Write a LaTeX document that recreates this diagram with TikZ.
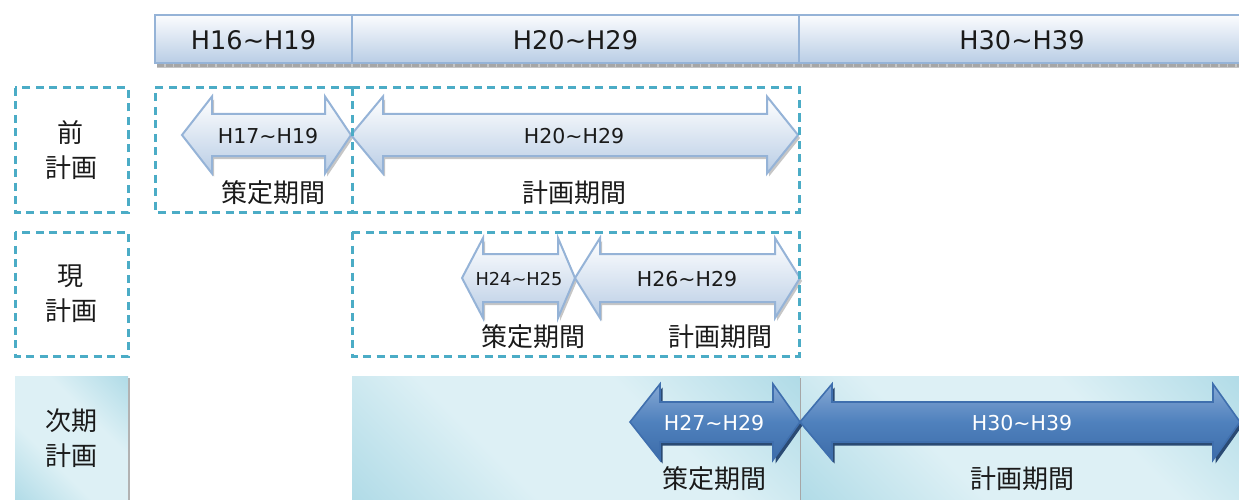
\documentclass[tikz,border=0pt]{standalone}
\usepackage{fontspec}
\setmainfont{DejaVu Sans}
\newfontfamily\jp{Noto Sans CJK JP}
\definecolor{hdrtop}{HTML}{FBFCFE}
\definecolor{hdrbot}{HTML}{B9CDE5}
\definecolor{hdrline}{HTML}{95B3D7}
\definecolor{dashc}{HTML}{4BACC6}
\definecolor{tealL}{HTML}{DDF0F5}
\definecolor{tealD}{HTML}{94CEDE}
\definecolor{darkA}{HTML}{4F81BD}
\definecolor{darkT}{HTML}{86A8D4}
\definecolor{darkE}{HTML}{3D6CA9}
\definecolor{darkL}{HTML}{3F6FAE}
\definecolor{darkS}{HTML}{2A4A73}
\definecolor{txt}{HTML}{1A1A1A}
\pgfdeclarehorizontalshading{tealdiag}{100bp}{color(0bp)=(tealD); color(38bp)=(tealL); color(62bp)=(tealL); color(100bp)=(tealD)}
\newcommand\dblarr[8]{%
  \path[#1] (#2,#6) -- (#3,#6-#7) -- (#3,#6-#8) -- (#4,#6-#8) -- (#4,#6-#7) -- (#5,#6)
    -- (#4,#6+#7) -- (#4,#6+#8) -- (#3,#6+#8) -- (#3,#6+#7) -- cycle;}
\tikzset{
  hdr/.style={top color=hdrtop, bottom color=hdrbot, draw=hdrline, line width=2pt},
  hdrtxt/.style={text=txt, font=\fontsize{25.6}{30}\selectfont, inner sep=0pt},
  dbox/.style={draw=dashc, line width=3pt, dash pattern=on 8pt off 5.5pt},
  lightarr/.style={top color=white, bottom color=hdrbot, draw=hdrline, line width=2pt, line join=miter},
  lightsh/.style={fill=gray!45, shift={(2,3)}},
  darkarr/.style={top color=darkT, bottom color=darkE, middle color=darkA, draw=darkL, line width=1.6pt, line join=miter},
  darksh/.style={fill=darkS, shift={(2.5,3.5)}},
  arrtxt/.style={text=txt, font=\fontsize{20.5}{24}\selectfont, inner sep=0pt},
  arrtxts/.style={text=txt, font=\fontsize{17.8}{21}\selectfont, inner sep=0pt},
  arrtxtw/.style={text=white, font=\fontsize{20.5}{24}\selectfont, inner sep=0pt},
  jtxt/.style={text=txt, font=\jp\fontsize{26}{35}\selectfont, inner sep=0pt, align=center},
  tealbox/.style={shading=tealdiag, shading angle=45},
}
\begin{document}
\begin{tikzpicture}[x=1pt, y=-1pt]
\useasboundingbox (0,0) rectangle (1239,500);
\clip (0,0) rectangle (1239,500);
% header
\fill[gray!45] (157,63) rectangle (1245,68);
\draw[gray!70, line width=4pt, dash pattern=on 7pt off 1.5pt] (157,65.5) -- (1245,65.5);
\draw[hdr] (155,15) rectangle (352,63);
\draw[hdr] (352,15) rectangle (799,63);
\draw[hdr] (799,15) rectangle (1250,63);
\node[hdrtxt] (h1) at (253.5,40) {H16\textasciitilde H19};
\node[hdrtxt] (h2) at (575.5,40) {H20\textasciitilde H29};
\node[hdrtxt] (h3) at (1022,40) {H30\textasciitilde H39};
% row 3 filled boxes
\path[tealbox] (15,376) rectangle (128,502);
\draw[gray!60, line width=1.2pt] (129,378) -- (129,502);
\path[tealbox] (352,376) rectangle (800,502);
\path[tealbox] (800,376) rectangle (1245,502);
\draw[gray!70, line width=0.8pt] (800,378) -- (800,502);
% row 1 arrows
\dblarr{lightsh}{182}{212}{325}{351}{135}{38.5}{21}
\dblarr{lightsh}{351}{383}{767}{798}{135}{38.5}{21}
\dblarr{lightarr}{182}{212}{325}{351}{135}{38.5}{21}
\dblarr{lightarr}{351}{383}{767}{798}{135}{38.5}{21}
\node[arrtxt] (a1) at (268,136) {H17\textasciitilde H19};
\node[arrtxt] (a2) at (574,136) {H20\textasciitilde H29};
% row 2 arrows
\dblarr{lightsh}{462}{483}{558}{575}{278}{40}{24}
\dblarr{lightsh}{575}{600}{775}{800}{278}{40}{24}
\dblarr{lightarr}{462}{483}{558}{575}{278}{40}{24}
\dblarr{lightarr}{575}{600}{775}{800}{278}{40}{24}
\node[arrtxts] (a3) at (519,279) {H24\textasciitilde H25};
\node[arrtxt] (a4) at (687,279) {H26\textasciitilde H29};
% row 3 arrows
\dblarr{darksh}{630}{660}{773}{800}{422}{38}{20}
\dblarr{darksh}{800}{832}{1213}{1240}{422}{38}{20}
\dblarr{darkarr}{630}{660}{773}{800}{422}{38}{20}
\dblarr{darkarr}{800}{832}{1213}{1240}{422}{38}{20}
\node[arrtxtw] (a5) at (714,423) {H27\textasciitilde H29};
\node[arrtxtw] (a6) at (1022,423) {H30\textasciitilde H39};
% dashed boxes
\draw[dbox] (15,88) rectangle (128,212);
\draw[dbox] (15,232) rectangle (128,356);
\draw[dbox] (352,88) -- (155,88) -- (155,212) -- (352,212);
\draw[dbox] (352,88) rectangle (799,212);
\draw[dbox] (352,232) rectangle (799,356);
% row labels
\node[jtxt] (r1) at (71,150) {前\\計画};
\node[jtxt] (r2) at (71,294) {現\\計画};
\node[jtxt] (r3) at (71,438) {次期\\計画};
% period labels
\node[jtxt] (p1) at (273,193) {策定期間};
\node[jtxt] (p2) at (574,193) {計画期間};
\node[jtxt] (p3) at (533,337) {策定期間};
\node[jtxt] (p4) at (720,337) {計画期間};
\node[jtxt] (p5) at (714,479) {策定期間};
\node[jtxt] (p6) at (1022,479) {計画期間};
\end{tikzpicture}
\end{document}
